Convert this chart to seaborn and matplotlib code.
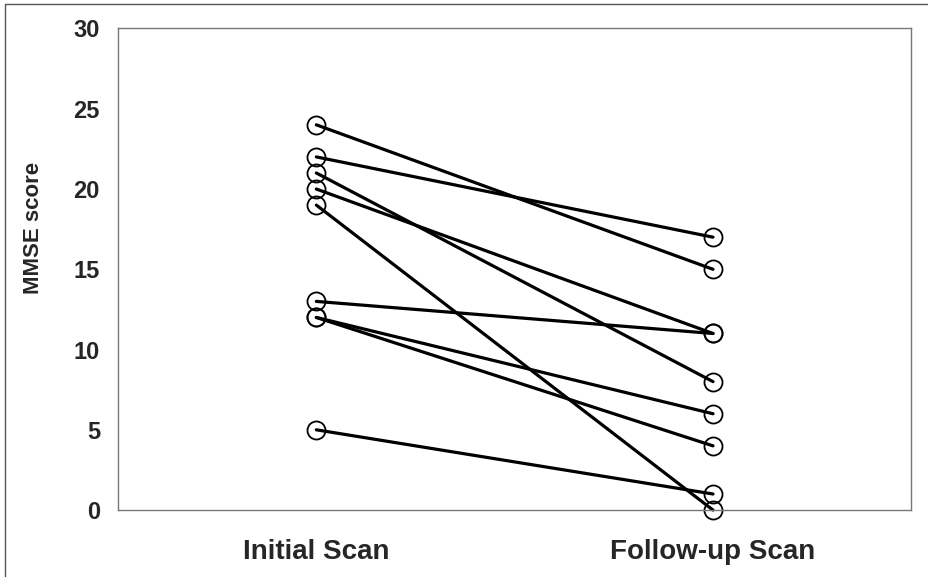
import numpy as np
import pandas as pd
import matplotlib
matplotlib.use('Agg')
import matplotlib.pyplot as plt
import seaborn as sns
from matplotlib.lines import Line2D

# Datos
scans = ['Initial Scan', 'Follow-up Scan']
initial = [24, 22, 21, 20, 19, 13, 12, 12, 5]
followup = [15, 17, 8, 11, 0, 11, 6, 4, 1]
yticks = [0, 5, 10, 15, 20, 25, 30]

subjects = list(range(1, len(initial) + 1))
df = pd.DataFrame({
    'subject': subjects * 2,
    'scan': [scans[0]] * len(initial) + [scans[1]] * len(followup),
    'score': initial + followup,
})

sns.set_style('white')
plt.rcParams['font.family'] = ['Liberation Sans', 'DejaVu Sans']

fig = plt.figure(figsize=(9.29, 5.77), dpi=100)
ax = fig.add_axes([0.127, 0.116, 0.854, 0.836])

sns.lineplot(data=df, x='scan', y='score', units='subject', estimator=None,
             color='black', linewidth=2.3, marker='o', markersize=13,
             markerfacecolor='none', markeredgecolor='black', markeredgewidth=1.3,
             sort=False, ax=ax, clip_on=False)

ax.set_xlim(-0.5, 1.5)
ax.set_ylim(0, 30.05)
ax.set_yticks(yticks)
ax.set_yticklabels([str(t) for t in yticks], fontsize=17, fontweight='bold')
ax.set_xticks([0, 1])
ax.set_xticklabels(scans, fontsize=20, fontweight='bold',
                   family=['Liberation Sans Narrow', 'Liberation Sans', 'DejaVu Sans'])
ax.tick_params(axis='y', length=0, pad=13)
ax.tick_params(axis='x', length=0, pad=21)
ax.set_xlabel('')
ax.set_ylabel('MMSE score', fontsize=16, fontweight='bold')
ax.yaxis.set_label_coords(-0.093, 0.585)

for s in ax.spines.values():
    s.set_color('#777777')
    s.set_linewidth(1.0)

# Marco exterior de la figura escaneada (solo arriba e izquierda)
fig.lines.append(Line2D([0.005, 0.005], [0.0, 0.993], transform=fig.transFigure,
                        color='#555555', linewidth=1.0))
fig.lines.append(Line2D([0.005, 1.0], [0.993, 0.993], transform=fig.transFigure,
                        color='#555555', linewidth=1.0))

plt.savefig('out.png', dpi=100)
